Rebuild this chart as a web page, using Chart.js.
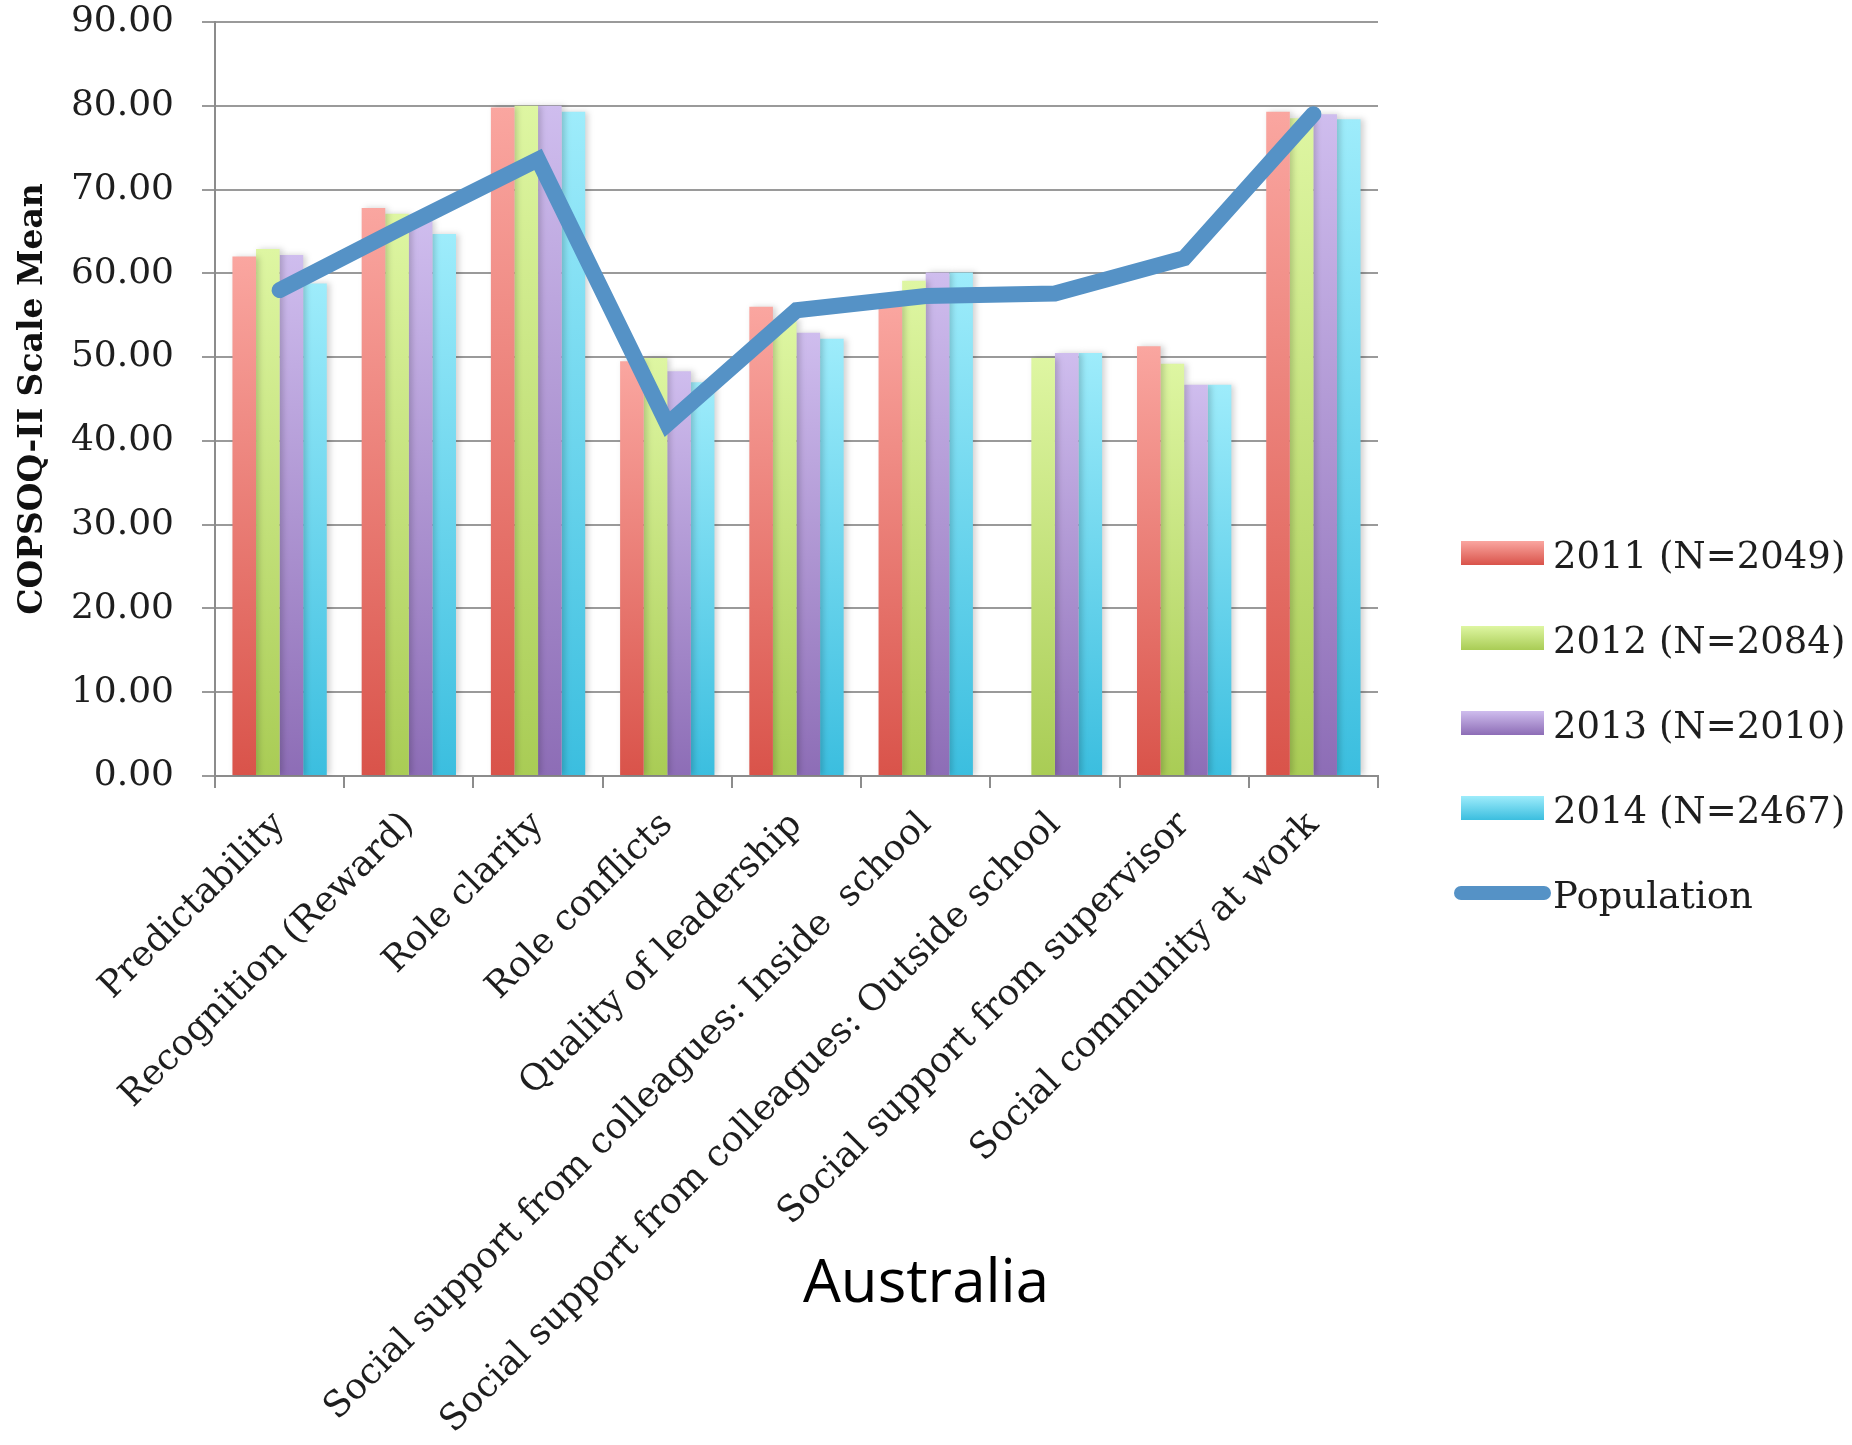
<!DOCTYPE html>
<html>
<head>
<meta charset="utf-8">
<title>COPSOQ-II Australia</title>
<script src="https://cdn.jsdelivr.net/npm/chart.js@4.4.1/dist/chart.umd.min.js"></script>
<style>
  html, body { margin: 0; padding: 0; background: #fff; }
  canvas { display: block; }
</style>
</head>
<body>
<canvas id="chartScales" width="1852" height="1445"></canvas>
<script>
const categories = [
  "Predictability",
  "Recognition (Reward)",
  "Role clarity",
  "Role conflicts",
  "Quality of leadership",
  "Social support from colleagues: Inside  school",
  "Social support from colleagues: Outside school",
  "Social support from supervisor",
  "Social community at work",
];

const seriesLabels = ["2011 (N=2049)", "2012 (N=2084)", "2013 (N=2010)", "2014 (N=2467)"];
const values2011 = [62.0, 67.8, 79.8, 49.5, 56.0, 56.3, null, 51.3, 79.3];
const values2012 = [62.9, 67.1, 80.0, 49.9, 54.5, 59.1, 49.9, 49.2, 78.5];
const values2013 = [62.2, 66.4, 80.0, 48.3, 52.9, 60.1, 50.5, 46.7, 79.0];
const values2014 = [58.8, 64.7, 79.3, 47.0, 52.2, 60.1, 50.5, 46.7, 78.4];

const populationLabel = "Population";
const population = [58.0, 65.9, 73.6, 42.0, 55.6, 57.3, 57.6, 61.8, 79.0];

const yTicksMin = 0;
const yTicksMax = 90;
const yTicksStep = 10;

// light top / dark bottom pairs for each year
const barColors = [
  ["#faa6a0", "#d9534a"],
  ["#def6a2", "#a9cc55"],
  ["#cfbdee", "#8d6db6"],
  ["#9eecfb", "#3bbedf"],
];
const lineColor = "#5592c6";

const serif = '"DejaVu Serif", serif';

function barFill(top, bottom) {
  return (ctx) => {
    const chart = ctx.chart;
    const yScale = chart.scales && chart.scales.y;
    if (!chart.chartArea || !yScale || ctx.type !== "data" || ctx.raw == null) return bottom;
    const yTop = yScale.getPixelForValue(ctx.raw);
    const yBase = yScale.getPixelForValue(0);
    if (!isFinite(yTop) || !isFinite(yBase) || yTop === yBase) return bottom;
    const g = chart.ctx.createLinearGradient(0, yTop, 0, yBase);
    g.addColorStop(0, top);
    g.addColorStop(1, bottom);
    return g;
  };
}

const barSeries = [values2011, values2012, values2013, values2014];

const datasets = barSeries.map((data, i) => ({
  type: "bar",
  label: seriesLabels[i],
  data: data,
  backgroundColor: barFill(barColors[i][0], barColors[i][1]),
  borderWidth: 0,
  barPercentage: 1.0,
  categoryPercentage: 0.73,
  order: 1,
}));

datasets.push({
  type: "line",
  label: populationLabel,
  data: population,
  borderColor: lineColor,
  backgroundColor: lineColor,
  borderWidth: 16,
  borderJoinStyle: "miter",
  borderCapStyle: "round",
  pointRadius: 0,
  tension: 0,
  fill: false,
  order: 0,
});

// soft shadow on the right of the bars
const barShadow = {
  id: "barShadow",
  beforeDatasetDraw(chart, args) {
    if (args.meta.type !== "bar") return;
    const c = chart.ctx;
    c.save();
    c.shadowColor = "rgba(0,0,0,0.18)";
    c.shadowBlur = 6;
    c.shadowOffsetX = 3;
  },
  afterDatasetDraw(chart, args) {
    if (args.meta.type !== "bar") return;
    chart.ctx.restore();
  },
};

// legend on the right, drawn by hand for the gradient swatches and the thick line
const sideLegend = {
  id: "sideLegend",
  afterDraw(chart) {
    const c = chart.ctx;
    const x0 = 1461, w = 83, h = 24, textX = 1553;
    let y = 553;
    const step = 85;
    c.save();
    c.font = "37px " + serif;
    c.textBaseline = "middle";
    c.textAlign = "left";
    chart.data.datasets.forEach((ds, i) => {
      if (ds.type === "bar") {
        const g = c.createLinearGradient(0, y - h / 2, 0, y + h / 2);
        g.addColorStop(0, barColors[i][0]);
        g.addColorStop(1, barColors[i][1]);
        c.fillStyle = g;
        c.fillRect(x0, y - h / 2, w, h);
      } else {
        c.strokeStyle = ds.borderColor;
        c.lineWidth = 14;
        c.lineCap = "round";
        c.beginPath();
        c.moveTo(x0, y);
        c.lineTo(x0 + w, y);
        c.stroke();
      }
      c.fillStyle = "#1e1e1e";
      c.fillText(ds.label, textX, y + 5);
      y += step;
    });
    c.restore();
  },
};

// country caption under the chart
const caption = {
  id: "caption",
  afterDraw(chart, args, opts) {
    const c = chart.ctx;
    c.save();
    c.font = '60px "Open Sans", sans-serif';
    c.fillStyle = "#000";
    c.textAlign = "center";
    c.textBaseline = "alphabetic";
    c.fillText(opts.text, chart.width / 2, 1302);
    c.restore();
  },
};

new Chart(document.getElementById("chartScales"), {
  data: { labels: categories, datasets: datasets },
  plugins: [barShadow, sideLegend, caption],
  options: {
    responsive: false,
    animation: false,
    layout: { padding: { left: 0, right: 474, top: 0, bottom: 0 } },
    plugins: {
      legend: { display: false },
      tooltip: { enabled: false },
      caption: { text: "Australia" },
    },
    scales: {
      x: {
        offset: true,
        grid: {
          offset: true,
          drawOnChartArea: false,
          color: "#8c8c8c",
          lineWidth: 2,
          tickLength: 12,
        },
        border: { color: "#8c8c8c", width: 2 },
        ticks: {
          autoSkip: false,
          minRotation: 45,
          maxRotation: 45,
          padding: 16,
          color: "#1e1e1e",
          font: { family: serif, size: 36 },
        },
        afterFit(scale) {
          scale.height = 1445 - 776;
        },
      },
      y: {
        min: yTicksMin,
        max: yTicksMax,
        grid: { color: "#9a9a9a", lineWidth: 2, tickLength: 13 },
        border: { color: "#8c8c8c", width: 2 },
        ticks: {
          stepSize: yTicksStep,
          padding: 28,
          color: "#1e1e1e",
          font: { family: serif, size: 36 },
          callback: (v) => Number(v).toFixed(2),
        },
        title: {
          display: true,
          text: "COPSOQ-II Scale Mean",
          color: "#111",
          font: { family: serif, size: 33, weight: "bold" },
          padding: { top: 14, bottom: 0 },
        },
        afterFit(scale) {
          scale.width = 215;
          scale.paddingTop = 22;
          scale.paddingBottom = 0;
        },
      },
    },
  },
});
</script>
</body>
</html>
